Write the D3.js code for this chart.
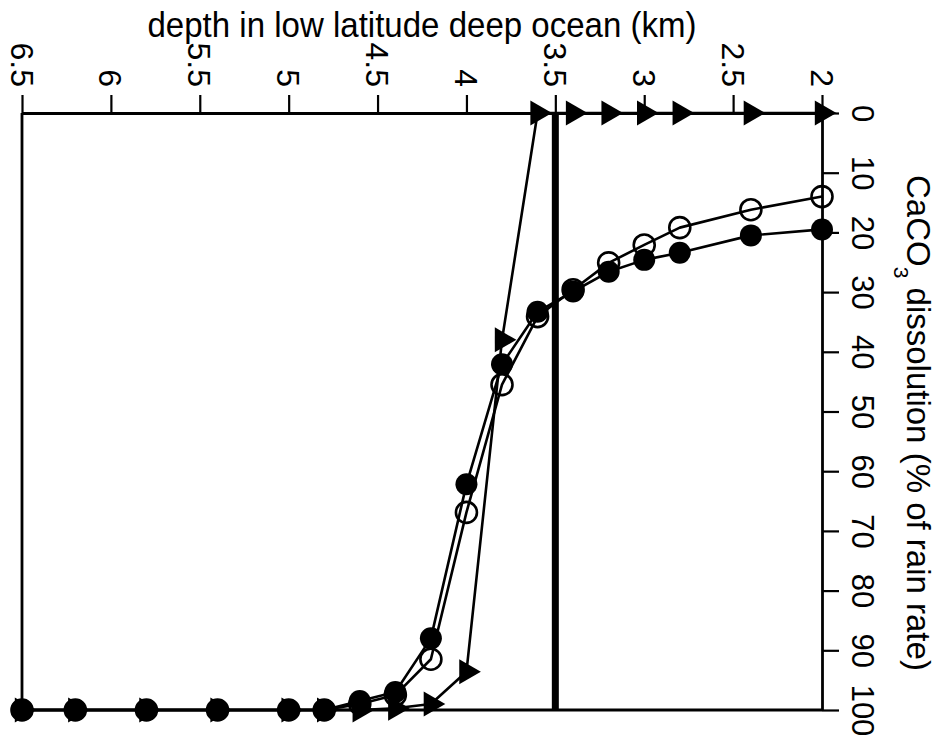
<!DOCTYPE html>
<html>
<head>
<meta charset="utf-8">
<script src="https://cdn.jsdelivr.net/npm/d3@7"></script>
<style>
  html, body { margin: 0; padding: 0; background: #fff; }
  svg { display: block; font-family: "Liberation Sans", Arial, Helvetica, sans-serif; }
</style>
</head>
<body>
<svg id="chart" width="941" height="753"></svg>
<script>
// Depth (km) of each model point
const depths = [2.0, 2.4, 2.8, 3.0, 3.2, 3.4, 3.6, 3.8, 4.0, 4.2, 4.4, 4.6, 4.8, 5.0, 5.4, 5.8, 6.2, 6.5];
// CaCO3 dissolution (% of rain rate)
const filledSeries = [19.5, 20.5, 23.4, 24.6, 26.6, 29.9, 33.3, 42.1, 62.2, 88, 97, 98.5, 100, 100, 100, 100, 100, 100];
const openSeries   = [14.0, 16.2, 19.2, 22.1, 25.1, 29.6, 34.1, 45.5, 66.9, 91.5, 97.5, 99, 100, 100, 100, 100, 100, 100];
const triSeries    = [0, 0, 0, 0, 0, 0, 0, 38, 93.6, 99, 99.7, 100, 100, 100, 100, 100, 100, 100];
// Axis ticks
const depthTicks = [6.5, 6, 5.5, 5, 4.5, 4, 3.5, 3, 2.5, 2];
const dissTicks = [0, 10, 20, 30, 40, 50, 60, 70, 80, 90, 100];
const markerDepth = 3.5;

const svg = d3.select("#chart");
const x = d3.scaleLinear().domain([6.5, 2]).range([22, 822]);
const y = d3.scaleLinear().domain([0, 100]).range([113, 710]);

const ink = "#000";

// Frame (left and bottom)
svg.append("line").attr("x1", x(6.5)).attr("x2", x(6.5)).attr("y1", y(0)).attr("y2", y(100))
  .attr("stroke", ink).attr("stroke-width", 2.8);
svg.append("line").attr("x1", x(6.5)).attr("x2", x(2)).attr("y1", y(100)).attr("y2", y(100))
  .attr("stroke", ink).attr("stroke-width", 2.8);

// Top axis (depth)
const topAxis = svg.append("g").attr("transform", `translate(0,${y(0)})`)
  .call(d3.axisTop(x).tickValues(depthTicks).tickSize(18).tickSizeOuter(0)
    .tickFormat(d => String(d)));
topAxis.select(".domain").attr("stroke", ink).attr("stroke-width", 2.8);
topAxis.selectAll(".tick line").attr("stroke", ink).attr("stroke-width", 2.2);
topAxis.selectAll(".tick text")
  .attr("fill", ink).attr("font-size", 32)
  .attr("transform", "rotate(90)")
  .attr("x", -26).attr("y", 12).attr("dy", "0")
  .attr("text-anchor", "end");

// Right axis (dissolution)
const rightAxis = svg.append("g").attr("transform", `translate(${x(2)},0)`)
  .call(d3.axisRight(y).tickValues(dissTicks).tickSize(17).tickSizeOuter(0));
rightAxis.select(".domain").attr("stroke", ink).attr("stroke-width", 2.8);
rightAxis.selectAll(".tick line").attr("stroke", ink).attr("stroke-width", 2.2);
rightAxis.selectAll(".tick text")
  .attr("fill", ink).attr("font-size", 31)
  .attr("transform", "rotate(90)")
  .attr("x", 0).attr("y", -30).attr("dy", "0")
  .attr("text-anchor", "middle");

// Titles
svg.append("text").attr("x", 422).attr("y", 37).attr("text-anchor", "middle")
  .attr("font-size", 35).attr("fill", ink)
  .attr("textLength", 549).attr("lengthAdjust", "spacingAndGlyphs")
  .text("depth in low latitude deep ocean (km)");

const rt = svg.append("text").attr("transform", "translate(907,175) rotate(90)")
  .attr("font-size", 33).attr("fill", ink).attr("text-anchor", "start");
rt.append("tspan").text("CaCO");
rt.append("tspan").attr("font-size", 21).attr("dy", 13).text("3");
rt.append("tspan").attr("dy", -13).text(" dissolution (% of rain rate)");

// Thick vertical line at 3.5 km
svg.append("line").attr("x1", x(markerDepth)).attr("x2", x(markerDepth))
  .attr("y1", y(0)).attr("y2", y(100)).attr("stroke", ink).attr("stroke-width", 7);

// Series lines
const mk = vals => depths.map((d, i) => [d, vals[i]]);
const line = d3.line().x(d => x(d[0])).y(d => y(d[1]));
[triSeries, openSeries, filledSeries].forEach(s => {
  svg.append("path").datum(mk(s)).attr("d", line)
    .attr("fill", "none").attr("stroke", ink).attr("stroke-width", 2.6)
    .attr("stroke-linejoin", "round");
});

// Triangles (pointing right)
const tri = d3.symbol().type(d3.symbolTriangle).size(270);
svg.append("g").selectAll("path").data(mk(triSeries)).join("path")
  .attr("d", tri)
  .attr("transform", d => `translate(${x(d[0])},${y(d[1])}) rotate(90)`)
  .attr("fill", ink);

// Open circles
svg.append("g").selectAll("circle").data(mk(openSeries)).join("circle")
  .attr("cx", d => x(d[0])).attr("cy", d => y(d[1])).attr("r", 10.5)
  .attr("fill", "none").attr("stroke", ink).attr("stroke-width", 2.6);

// Filled circles
svg.append("g").selectAll("circle").data(mk(filledSeries)).join("circle")
  .attr("cx", d => x(d[0])).attr("cy", d => y(d[1])).attr("r", 11)
  .attr("fill", ink);
</script>
</body>
</html>
